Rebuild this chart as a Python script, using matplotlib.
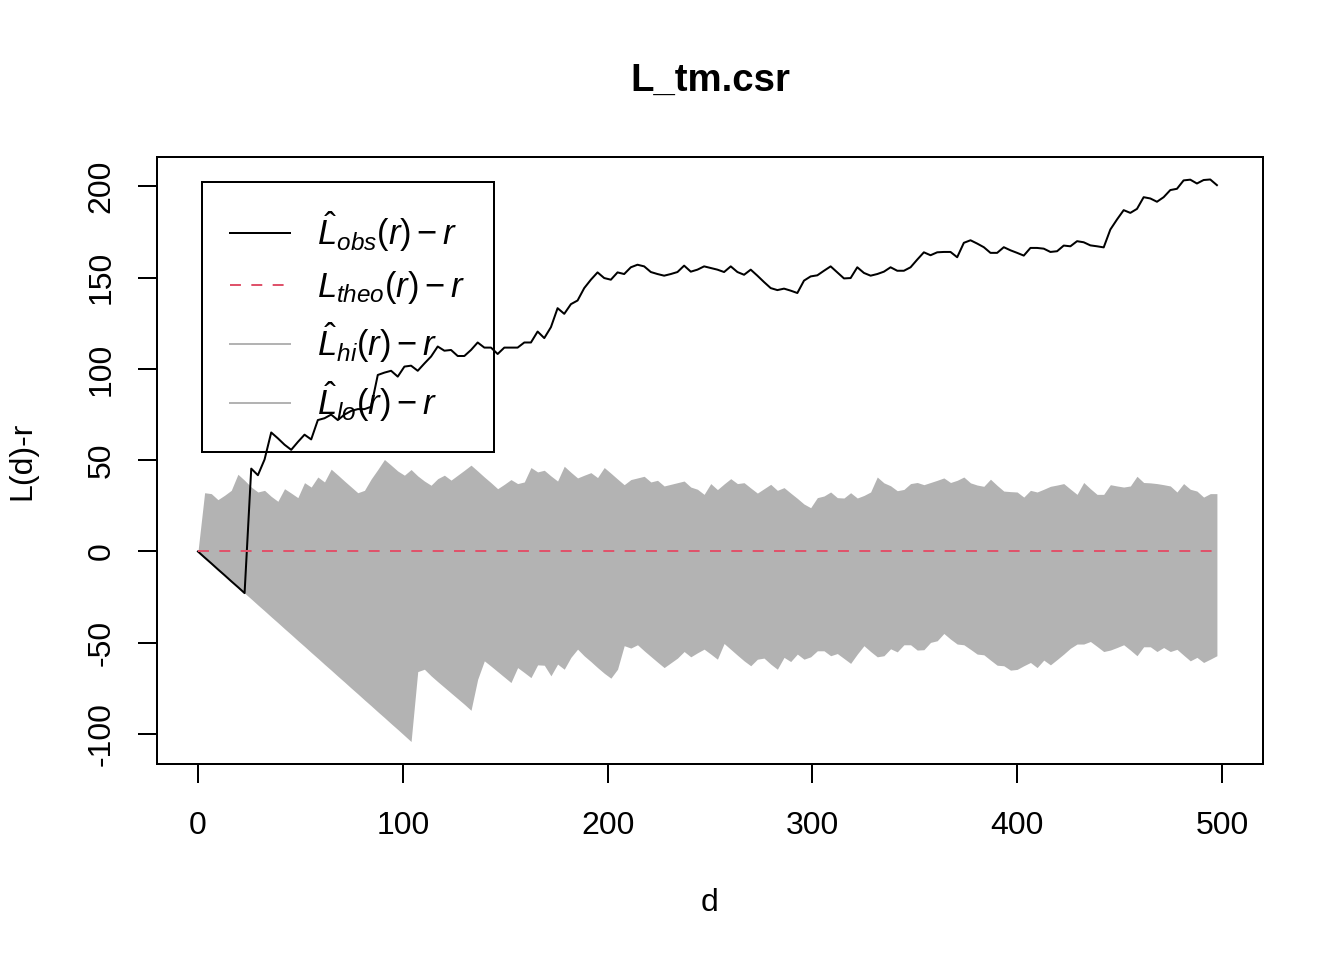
import numpy as np
import matplotlib
matplotlib.use('Agg')
import matplotlib.pyplot as plt
from matplotlib.lines import Line2D

plt.rcParams['font.family'] = ['Liberation Sans', 'DejaVu Sans']
plt.rcParams['mathtext.fontset'] = 'custom'
plt.rcParams['mathtext.rm'] = 'Liberation Sans'
plt.rcParams['mathtext.it'] = 'Liberation Sans:italic'
plt.rcParams['lines.scale_dashes'] = False
plt.rcParams['axes.unicode_minus'] = False

# distance grid
d = np.linspace(0, 497.5, 154)

obs = [0, -3.3, -6.5, -9.8, -13.0, -16.3, -19.5, -22.8,
       45.4, 41.8, 50.4, 65.2, 62.0, 58.5, 55.7, 60.0, 64.0, 61.4, 72.0,
       73.0, 75.0, 72.0, 75.0, 77.0, 78.0, 78.0, 79.3,
       96.7, 98.0, 99.0, 95.8, 101.3, 101.8, 99.0, 103.0, 106.8, 112.3, 110.0,
       110.4, 107.1, 107.1, 110.4, 114.5, 111.7, 111.7, 108.2, 111.7, 111.7,
       111.7, 114.5, 114.5,
       120.5, 116.9, 122.9, 133.3, 130.2, 135.5, 137.5, 144.3, 148.9, 152.9,
       149.8, 148.9, 152.9, 152.0, 155.7, 157.1, 156.2, 153.1, 152.0, 151.1,
       152.0, 153.1, 156.6, 153.3, 154.4, 156.2,
       155.3, 154.4, 153.1, 156.2, 153.1, 151.6, 154.4, 151.1, 147.6, 144.3,
       143.2, 144.0, 142.9, 141.6, 148.4, 150.7, 151.3, 153.8, 156.2, 152.9,
       149.6, 149.8, 155.7, 152.6, 151.1, 152.0,
       153.3, 155.7, 153.8, 153.8, 155.7, 159.9, 163.9, 162.3, 163.9, 164.1,
       164.1, 161.2, 169.1, 170.5, 168.7, 166.7, 163.6, 163.6, 166.7, 165.0,
       163.6, 162.1, 166.3, 166.3, 165.9,
       164.1, 164.5, 167.6, 167.2, 170.0, 169.4, 167.7, 167.2, 166.6, 176.4,
       181.9, 187.0, 185.5, 187.7, 194.1, 193.4, 191.6, 194.1, 198.0, 198.7,
       203.3, 203.7, 201.6, 203.5, 203.8, 200.7]

theo = [0.0] * 154

hi = [0, 32.2, 31.7, 28.4, 30.8, 33.5, 42.3, 39.0, 35.3, 32.6, 33.5, 30.2,
      27.5, 34.4, 32.0, 29.5, 37.7, 35.3, 40.8, 38.1, 45.1, 41.9, 38.6, 35.4,
      32.2, 33.5, 39.7, 44.9, 50.4, 47.3, 44.1, 41.8, 44.9, 41.4, 38.6, 36.3,
      39.9, 41.8, 39.1, 41.8, 44.5, 47.3, 44.1, 40.8, 37.7, 34.4, 36.8, 39.4,
      37.2, 38.1, 46.0, 43.6, 44.5, 41.4, 38.6, 46.7, 43.4, 40.3, 41.8, 43.2,
      40.5, 46.0, 42.9, 39.7, 36.6, 39.4, 40.3, 41.2, 38.1, 39.0, 35.9, 36.8,
      37.7, 38.6, 35.3, 34.1, 31.3, 37.2, 33.9, 37.0, 39.9, 37.2, 37.7, 34.8,
      32.0, 34.4, 36.8, 33.5, 35.0, 32.0, 29.1, 26.0, 24.0, 29.5, 30.4, 32.6,
      29.5, 29.3, 32.2, 29.3, 30.7, 32.6, 40.8, 37.6, 36.0, 33.3, 34.0, 37.2,
      37.8, 36.6, 37.8, 39.0, 40.3, 37.8, 39.0, 40.8, 37.6, 36.4, 35.7, 39.6,
      36.2, 33.1, 32.8, 32.6, 29.8, 33.5, 32.6, 34.1, 35.7, 36.4, 37.2, 34.2,
      31.3, 37.8, 34.4, 31.3, 31.3, 36.6, 35.9, 35.3, 35.9, 41.2, 37.8, 37.6,
      37.2, 36.6, 35.9, 32.6, 37.2, 34.1, 33.1, 29.8, 31.7, 31.7]

lo = [0, -3.25, -6.5, -9.75, -13.0, -16.3, -19.5, -22.8, -26.0, -29.3, -32.5,
      -35.8, -39.0, -42.3, -45.5, -48.8, -52.0, -55.3, -58.5, -61.8, -65.0,
      -68.3, -71.5, -74.8, -78.0, -81.3, -84.5, -87.8, -91.0, -94.3, -97.5,
      -100.8, -104.1,
      -65.8, -64.5, -68.1, -71.3, -74.4, -77.5, -80.6, -83.7, -87.0, -70.0,
      -59.9, -62.8, -65.8, -68.8, -71.8, -63.6, -66.3, -69.1, -62.1, -62.3,
      -68.1, -61.7, -64.5, -58.0, -53.5, -57.2, -60.3, -63.6, -66.7, -69.4,
      -64.5, -51.6, -52.9, -51.1, -54.4, -57.5, -60.6, -63.6, -61.0, -58.4,
      -54.8, -57.7, -55.5, -53.5, -56.2, -59.0, -50.4, -53.6, -56.8, -59.9,
      -62.6, -59.0, -58.4, -61.7, -64.5, -58.0, -60.3, -56.2, -59.0, -57.7,
      -54.4, -54.4, -57.1, -55.9, -58.6, -61.3, -56.2, -51.6, -54.8, -57.7,
      -57.1, -53.3, -55.0, -51.1, -51.1, -54.0, -53.8, -49.8, -48.9, -44.9,
      -48.0, -50.7, -51.1, -53.6, -56.2, -56.6, -59.5, -62.3, -62.6, -65.0,
      -64.6, -62.6, -60.8, -63.6, -59.5, -62.1, -59.2, -56.2, -53.0, -50.7,
      -50.7, -49.3, -52.0, -54.8, -54.0, -52.6, -51.1, -54.0, -57.1, -52.2,
      -52.2, -54.8, -52.6, -54.8, -53.6, -56.8, -59.9, -58.0, -60.8, -59.0,
      -57.1]

labels = [r'$\hat{L}_{obs}(r)-r$', r'$L_{theo}(r)-r$',
          r'$\hat{L}_{hi}(r)-r$', r'$\hat{L}_{lo}(r)-r$']

shade = '#B3B3B3'
red = '#DF536B'

fig = plt.figure(figsize=(7, 5), dpi=192)
ax = fig.add_axes([157/1344, 1 - 764/960, 1106/1344, 607/960])

ax.fill_between(d, lo, hi, color=shade, linewidth=0, zorder=1)
ax.plot(d, obs, color='black', lw=0.75, zorder=4)
ax.plot(d, theo, color=red, lw=0.75, dashes=(4.1, 3.9), zorder=4)

# R-style limits (4% padding)
ymin = min(min(lo), min(obs))
ymax = max(max(hi), max(obs))
pad = 0.04 * (ymax - ymin)
ax.set_ylim(ymin - pad, ymax + pad)
ax.set_xlim(-20, 520)

ax.set_xticks([0, 100, 200, 300, 400, 500])
ax.set_yticks([-100, -50, 0, 50, 100, 150, 200])
ax.tick_params(length=7.2, width=0.75, labelsize=12)
ax.tick_params(axis='x', pad=10.5)
ax.tick_params(axis='y', pad=8)
for lab in ax.get_yticklabels():
    lab.set_rotation(90)
    lab.set_va('center')
for s in ax.spines.values():
    s.set_linewidth(0.75)

ax.set_xlabel('d', fontsize=12, labelpad=17.5)
ax.set_ylabel('L(d)-r', fontsize=12, labelpad=18.5)
ax.set_title('L_tm.csr', fontsize=14.4, fontweight='bold', pad=24.8)

handles = [Line2D([], [], color='black', lw=0.75),
           Line2D([], [], color=red, lw=0.75, dashes=(4.1, 3.9)),
           Line2D([], [], color=shade, lw=0.75),
           Line2D([], [], color=shade, lw=0.75)]
leg = ax.legend(handles, labels, loc='upper left',
                bbox_to_anchor=(45/1106, 1 - 25/607), borderaxespad=0,
                fontsize=13, frameon=True, fancybox=False, framealpha=1,
                edgecolor='black', handlelength=1.73, handletextpad=0.8,
                labelspacing=0.43, borderpad=0.8)
leg.get_frame().set_facecolor('none')
leg.get_frame().set_linewidth(0.75)
leg.set_zorder(2)

fig.savefig('out.png', dpi=192)
